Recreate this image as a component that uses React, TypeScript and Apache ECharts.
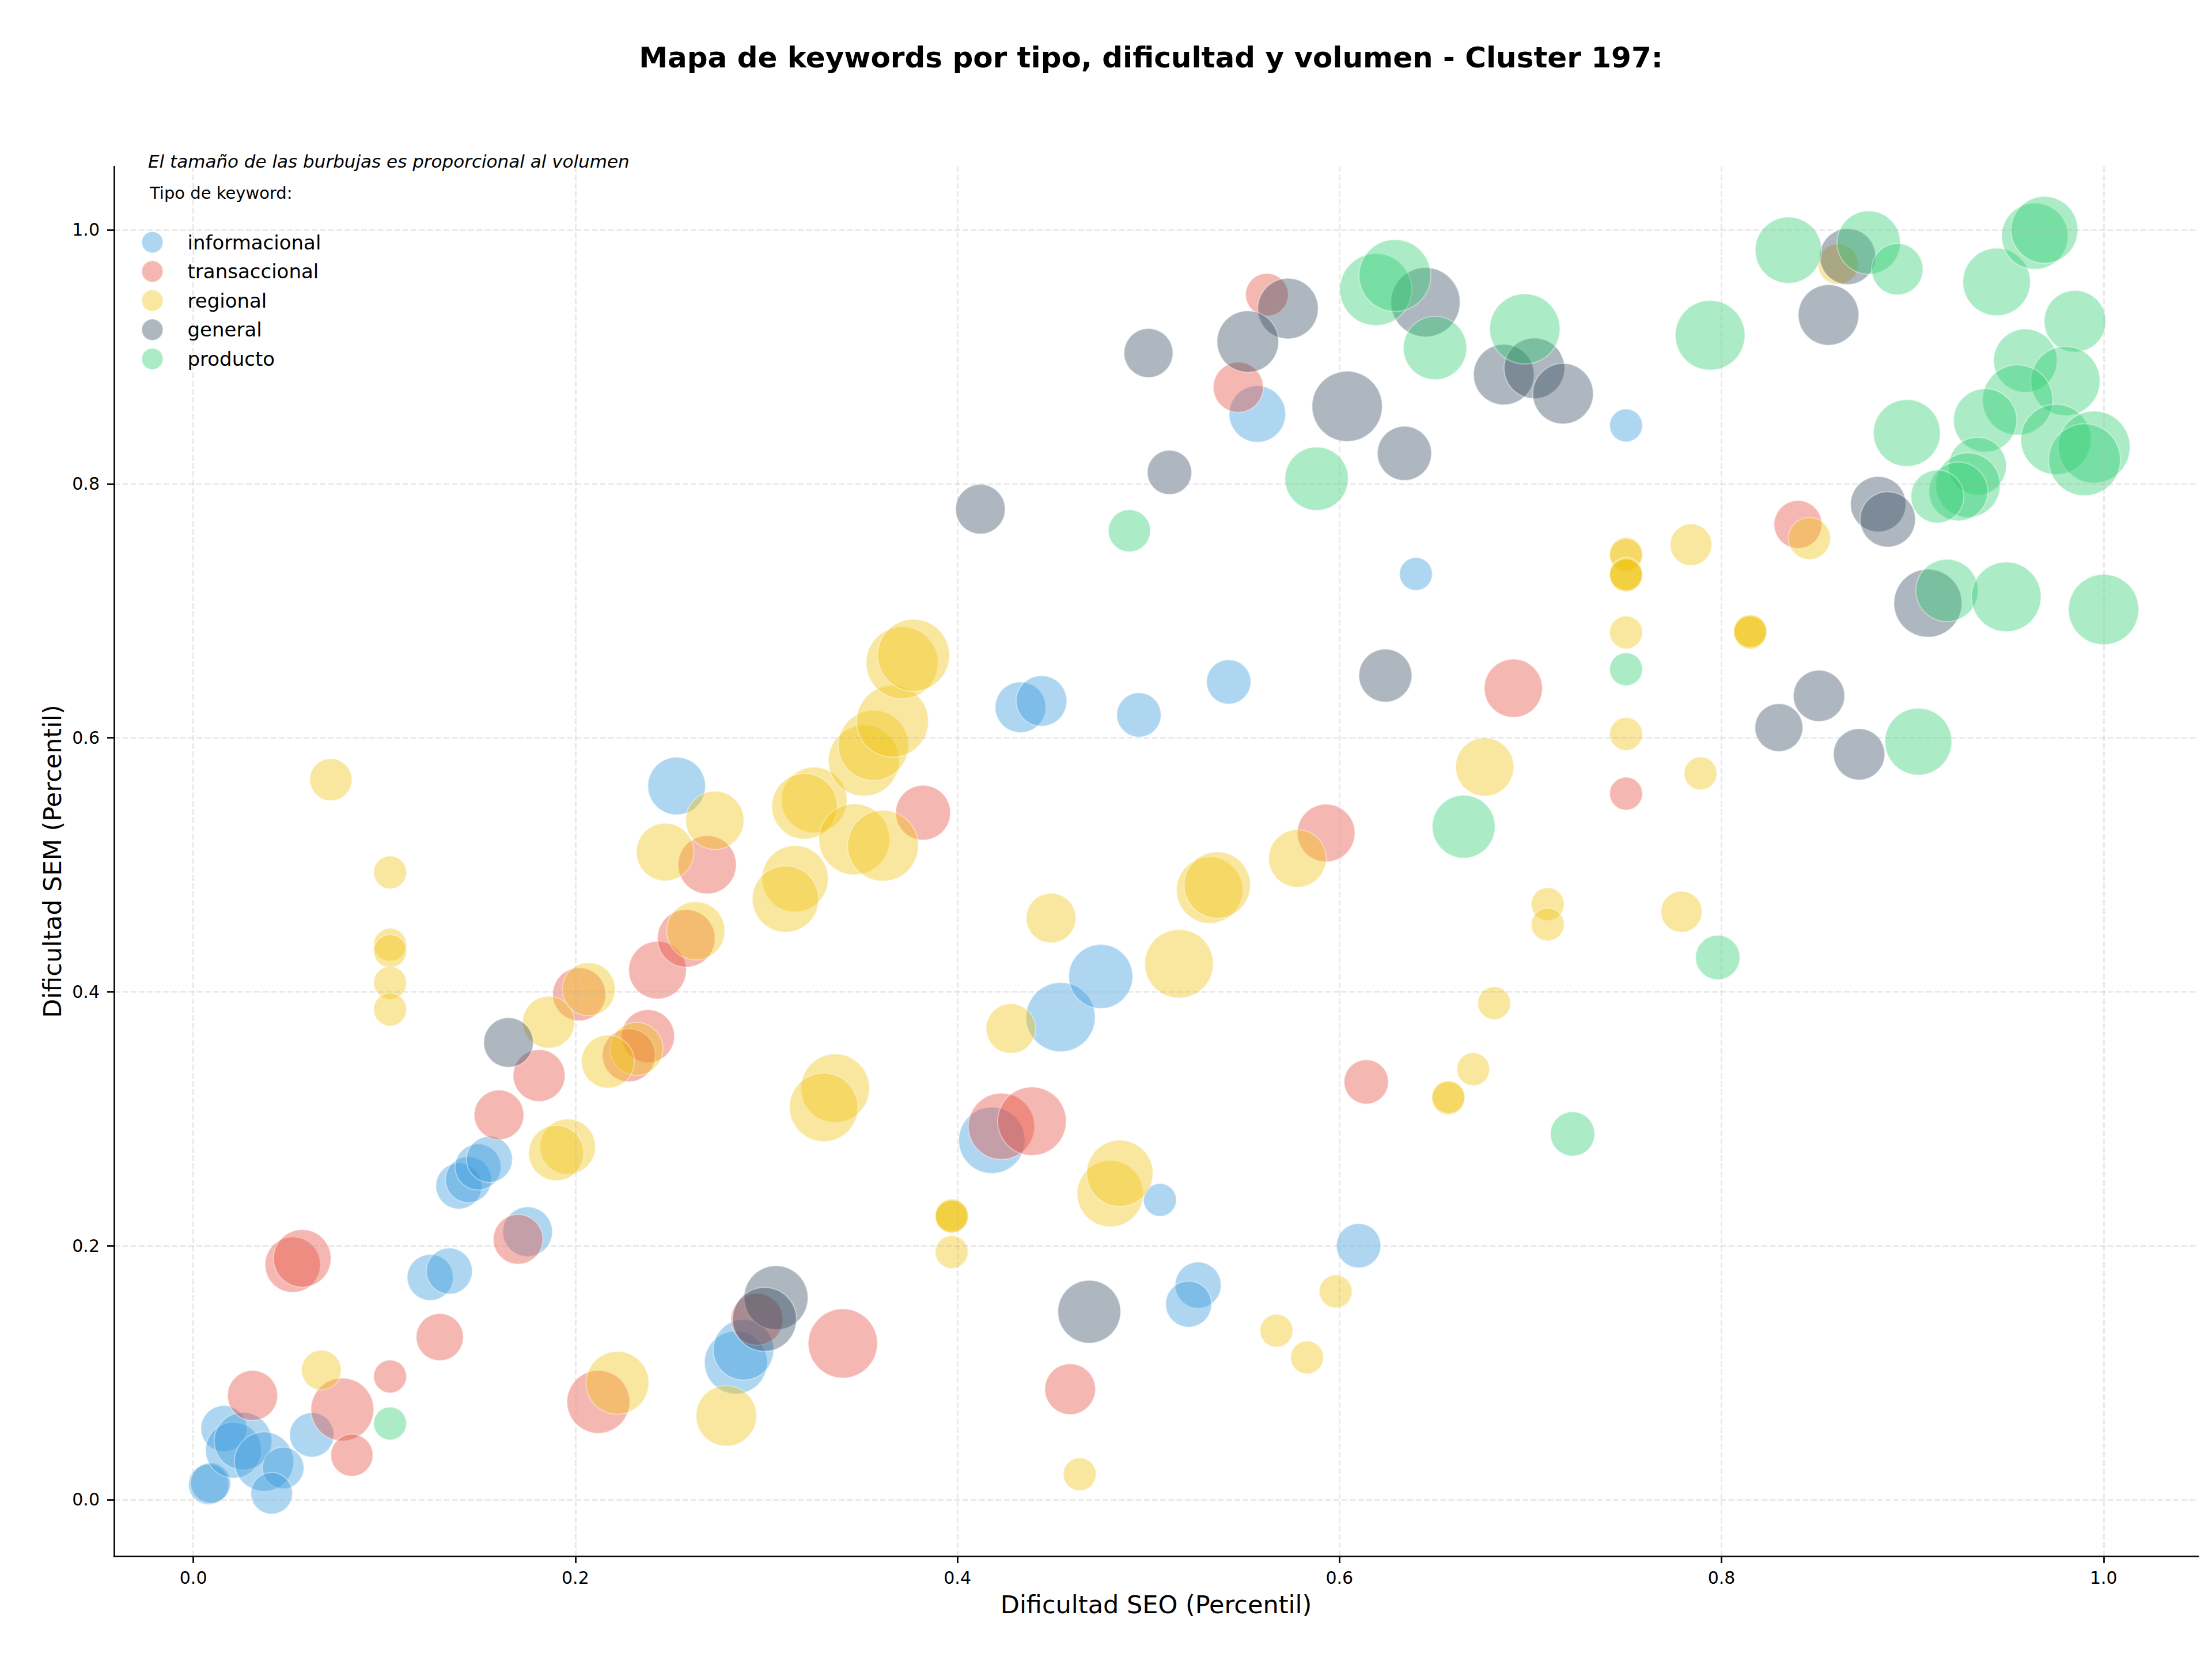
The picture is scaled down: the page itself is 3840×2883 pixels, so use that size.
import React, { useEffect, useRef } from "react";
import * as echarts from "echarts";

// Keyword types and their base colours
const categories = ["informacional", "transaccional", "regional", "general", "producto"];
const baseColors = ["#3498db", "#e74c3c", "#f1c40f", "#34495e", "#2ecc71"];

// Tick values shared by both axes
const tickValues = [0, 0.2, 0.4, 0.6, 0.8, 1.0];

// Each row: [dificultad SEO, dificultad SEM, volumen]
const informacional = [
  [0.008, 0.012, 75], [0.009, 0.013, 75], [0.016, 0.056, 98], [0.021, 0.039, 145],
  [0.026, 0.046, 154], [0.037, 0.030, 163], [0.047, 0.025, 80], [0.041, 0.005, 80],
  [0.062, 0.051, 91], [0.124, 0.175, 98], [0.134, 0.180, 98], [0.175, 0.211, 114],
  [0.139, 0.247, 98], [0.144, 0.252, 98], [0.149, 0.262, 98], [0.155, 0.268, 98],
  [0.253, 0.562, 154], [0.284, 0.108, 183], [0.288, 0.118, 170], [0.418, 0.283, 204],
  [0.454, 0.380, 222], [0.475, 0.412, 190], [0.506, 0.236, 50], [0.610, 0.200, 91],
  [0.526, 0.169, 98], [0.521, 0.154, 98], [0.433, 0.624, 119], [0.444, 0.629, 119],
  [0.495, 0.618, 91], [0.542, 0.644, 91], [0.557, 0.855, 148], [0.750, 0.846, 50],
  [0.640, 0.729, 50],
];

const transaccional = [
  [0.031, 0.082, 116], [0.078, 0.071, 183], [0.083, 0.035, 82], [0.052, 0.185, 142],
  [0.057, 0.190, 154], [0.103, 0.097, 50], [0.129, 0.128, 103], [0.170, 0.205, 114],
  [0.160, 0.303, 114], [0.181, 0.334, 125], [0.202, 0.398, 130], [0.243, 0.417, 154],
  [0.258, 0.442, 154], [0.269, 0.500, 157], [0.238, 0.365, 130], [0.228, 0.350, 130],
  [0.212, 0.077, 183], [0.295, 0.142, 125], [0.340, 0.123, 222], [0.382, 0.541, 139],
  [0.423, 0.294, 204], [0.439, 0.298, 218], [0.459, 0.087, 119], [0.593, 0.525, 154],
  [0.614, 0.329, 91], [0.691, 0.639, 157], [0.750, 0.556, 50], [0.840, 0.768, 106],
  [0.562, 0.949, 84], [0.547, 0.876, 116],
];

const regional = [
  [0.072, 0.567, 82], [0.103, 0.494, 50], [0.103, 0.437, 50], [0.103, 0.432, 50],
  [0.103, 0.407, 50], [0.103, 0.386, 50], [0.067, 0.102, 73], [0.186, 0.376, 125],
  [0.207, 0.402, 130], [0.263, 0.448, 157], [0.247, 0.510, 154], [0.273, 0.535, 157],
  [0.232, 0.355, 130], [0.217, 0.345, 130], [0.196, 0.278, 142], [0.190, 0.273, 142],
  [0.222, 0.092, 183], [0.279, 0.066, 170], [0.336, 0.324, 218], [0.330, 0.309, 218],
  [0.315, 0.489, 204], [0.310, 0.473, 204], [0.325, 0.551, 200], [0.320, 0.546, 200],
  [0.346, 0.520, 233], [0.361, 0.515, 233], [0.351, 0.582, 233], [0.356, 0.594, 229],
  [0.366, 0.613, 240], [0.371, 0.659, 240], [0.377, 0.665, 240],
  [0.397, 0.223, 50], [0.397, 0.224, 50], [0.397, 0.223, 50], [0.397, 0.195, 50],
  [0.428, 0.371, 114], [0.449, 0.458, 114], [0.516, 0.422, 218], [0.532, 0.480, 204],
  [0.536, 0.484, 204], [0.578, 0.505, 154], [0.480, 0.241, 204], [0.485, 0.257, 204],
  [0.464, 0.020, 50], [0.598, 0.164, 50], [0.567, 0.133, 50], [0.583, 0.112, 50],
  [0.676, 0.577, 157], [0.681, 0.391, 50], [0.670, 0.339, 50], [0.657, 0.316, 50],
  [0.657, 0.317, 50], [0.709, 0.469, 50], [0.709, 0.453, 50], [0.779, 0.463, 78],
  [0.750, 0.603, 50], [0.789, 0.572, 50], [0.750, 0.683, 50], [0.750, 0.745, 50],
  [0.750, 0.744, 50], [0.750, 0.729, 50], [0.750, 0.729, 50], [0.750, 0.728, 50],
  [0.815, 0.683, 50], [0.815, 0.683, 50], [0.815, 0.684, 50], [0.784, 0.752, 80],
  [0.846, 0.757, 82], [0.861, 0.973, 75],
];

const general = [
  [0.165, 0.360, 114], [0.305, 0.159, 190], [0.299, 0.142, 190], [0.469, 0.148, 183],
  [0.412, 0.780, 114], [0.500, 0.903, 111], [0.511, 0.809, 91], [0.573, 0.938, 170],
  [0.552, 0.912, 176], [0.604, 0.861, 229], [0.634, 0.824, 136], [0.645, 0.943, 222],
  [0.686, 0.886, 170], [0.702, 0.891, 170], [0.717, 0.871, 170], [0.624, 0.649, 130],
  [0.856, 0.933, 170], [0.866, 0.979, 145], [0.882, 0.784, 142], [0.887, 0.772, 142],
  [0.908, 0.706, 214], [0.851, 0.633, 122], [0.830, 0.608, 106], [0.872, 0.587, 122],
];

const producto = [
  [0.103, 0.060, 50], [0.490, 0.763, 82], [0.588, 0.804, 186], [0.619, 0.953, 240],
  [0.629, 0.964, 240], [0.650, 0.907, 186], [0.697, 0.922, 229], [0.665, 0.530, 183],
  [0.722, 0.288, 91], [0.798, 0.427, 91], [0.750, 0.654, 50], [0.794, 0.917, 225],
  [0.835, 0.984, 204], [0.877, 0.990, 186], [0.892, 0.969, 122], [0.944, 0.959, 211],
  [0.964, 0.995, 204], [0.969, 1.000, 207], [0.985, 0.928, 176], [0.959, 0.897, 186],
  [0.980, 0.881, 222], [0.955, 0.866, 229], [0.938, 0.850, 186], [0.897, 0.840, 207],
  [0.975, 0.835, 229], [0.995, 0.829, 240], [0.990, 0.819, 240], [0.934, 0.814, 154],
  [0.929, 0.799, 193], [0.924, 0.794, 160], [0.913, 0.790, 130], [0.918, 0.716, 180],
  [0.949, 0.711, 225], [1.000, 0.701, 229], [0.903, 0.597, 207],
];

const seriesData = [informacional, transaccional, regional, general, producto];

const FONT = "DejaVu Sans";
const X_MIN = -0.0415;
const X_MAX = 1.0495;
const Y_MIN = -0.0445;
const Y_MAX = 1.0499;

// bubble area proportional to volume
const bubbleSize = (vol: number) => 8.06 * Math.sqrt(vol);

const withAlpha = (hex: string, a: number) => {
  const n = parseInt(hex.slice(1), 16);
  return `rgba(${(n >> 16) & 255},${(n >> 8) & 255},${n & 255},${a})`;
};

const axisCommon = (name: string, nameGap: number, labelMargin: number) => ({
  type: "value" as const,
  z: 3,
  name,
  nameLocation: "middle" as const,
  nameGap,
  nameTextStyle: { fontSize: 43, color: "#000", fontFamily: FONT },
  axisLine: { show: true, onZero: false, lineStyle: { color: "#000", width: 2.7 } },
  axisTick: {
    show: true,
    length: 12,
    customValues: tickValues,
    lineStyle: { color: "#000", width: 2.7 },
  },
  axisLabel: {
    customValues: tickValues,
    formatter: (v: number) => v.toFixed(1),
    fontSize: 30,
    color: "#000",
    margin: labelMargin,
    fontFamily: FONT,
  },
  splitLine: {
    show: true,
    lineStyle: { type: [10, 4.3], color: "rgba(176,176,176,0.3)", width: 2.7 },
  },
});

export default function App() {
  const ref = useRef<HTMLDivElement>(null);

  useEffect(() => {
    if (!ref.current) return;
    const chart = echarts.init(ref.current, null, { renderer: "svg" });

    const option = {
      animation: false,
      backgroundColor: "#ffffff",
      grid: { left: 198, right: 24, top: 289, bottom: 182, containLabel: false },
      xAxis: { ...axisCommon("Dificultad SEO (Percentil)", 62, 22), min: X_MIN, max: X_MAX },
      yAxis: { ...axisCommon("Dificultad SEM (Percentil)", 86, 25), min: Y_MIN, max: Y_MAX },
      legend: {
        orient: "vertical",
        left: 240,
        top: 396,
        itemWidth: 112,
        itemHeight: 37,
        itemGap: 11.6,
        icon: "circle",
        selectedMode: false,
        data: categories,
        textStyle: { fontSize: 34, color: "#000", fontFamily: FONT },
      },
      graphic: [
        {
          type: "text",
          x: 1998,
          y: 100,
          style: {
            text: "Mapa de keywords por tipo, dificultad y volumen - Cluster 197:",
            fontSize: 50,
            fontWeight: "bold",
            fontFamily: FONT,
            fill: "#000",
            align: "center",
            verticalAlign: "middle",
          },
        },
        {
          type: "text",
          x: 257,
          y: 280,
          style: {
            text: "El tamaño de las burbujas es proporcional al volumen",
            fontSize: 31,
            fontStyle: "italic",
            fontFamily: FONT,
            fill: "#000",
            align: "left",
            verticalAlign: "middle",
          },
        },
        {
          type: "text",
          x: 260,
          y: 335,
          style: {
            text: "Tipo de keyword:",
            fontSize: 29,
            fontFamily: FONT,
            fill: "#000",
            align: "left",
            verticalAlign: "middle",
          },
        },
      ],
      series: categories.map((name, i) => ({
        type: "scatter",
        name,
        data: seriesData[i],
        symbolSize: (v: number[]) => bubbleSize(v[2]),
        itemStyle: {
          color: withAlpha(baseColors[i], 0.5),
          borderColor: "rgba(255,255,255,0.5)",
          borderWidth: 2,
        },
        emphasis: { disabled: true },
        silent: true,
      })),
    };

    chart.setOption(option as any);
    return () => chart.dispose();
  }, []);

  return (
    <div
      ref={ref}
      style={{ position: "absolute", left: 0, top: 0, width: 3840, height: 2883 }}
    />
  );
}
